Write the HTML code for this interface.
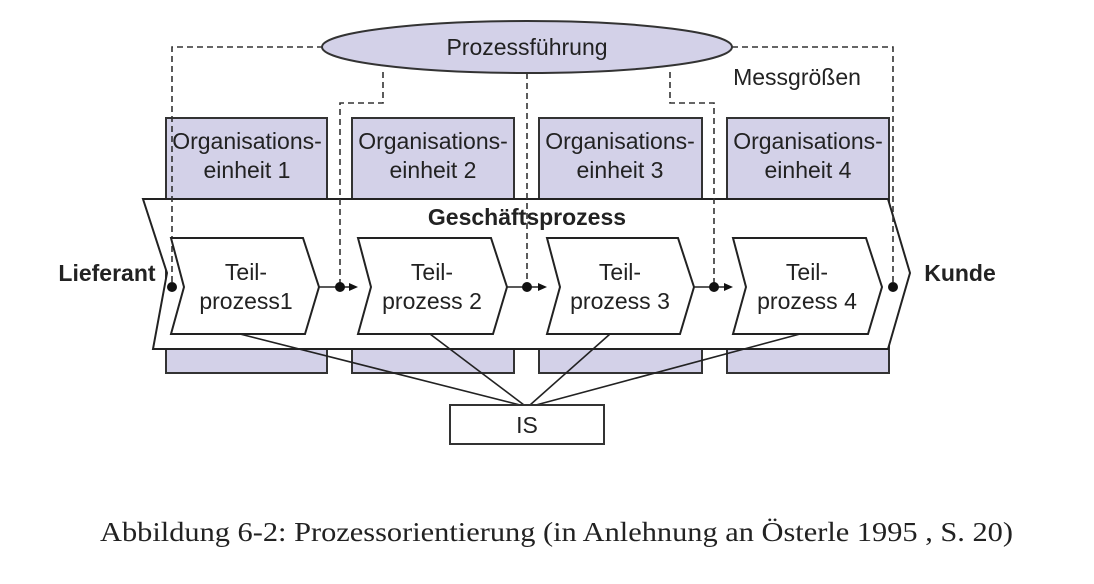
<!DOCTYPE html>
<html><head><meta charset="utf-8"><style>
html,body{margin:0;padding:0;background:#fff;}
svg{display:block;}
text{font-family:"Liberation Sans",sans-serif;fill:#222;}
</style></head><body>
<svg width="1094" height="584" viewBox="0 0 1094 584" xmlns="http://www.w3.org/2000/svg">
<g fill="#d3d1e8" stroke="#333" stroke-width="2">
<rect x="166" y="118" width="161" height="255"/>
<rect x="352" y="118" width="162" height="255"/>
<rect x="539" y="118" width="163" height="255"/>
<rect x="727" y="118" width="162" height="255"/>
</g>
<polygon points="143,199 888,199 910,273 888,349 153,349 167,273" fill="#fff" stroke="#222" stroke-width="2"/>
<ellipse cx="527" cy="47" rx="205" ry="26" fill="#d3d1e8" stroke="#333" stroke-width="2"/>
<g fill="none" stroke="#333" stroke-width="1.6" stroke-dasharray="6,4">
<polyline points="323,47 172,47 172,287"/>
<polyline points="383,72 383,103 340,103 340,287"/>
<polyline points="527,73 527,287"/>
<polyline points="670,72 670,103 714,103 714,287"/>
<polyline points="732,47 893,47 893,287"/>
</g>
<g fill="#fff" stroke="#222" stroke-width="2">
<polygon points="171,238 303,238 319,287 305,334 171,334 184,287"/>
<polygon points="358,238 491,238 507,287 493,334 358,334 371,287"/>
<polygon points="547,238 678,238 694,287 680,334 547,334 560,287"/>
<polygon points="733,238 866,238 882,287 868,334 733,334 746,287"/>
</g>
<g stroke="#222" stroke-width="1.6" fill="none">
<line x1="319" y1="287" x2="352" y2="287"/>
<line x1="507" y1="287" x2="541" y2="287"/>
<line x1="694" y1="287" x2="727" y2="287"/>
<line x1="240" y1="334" x2="520" y2="405"/>
<line x1="430" y1="334" x2="524" y2="405"/>
<line x1="610" y1="334" x2="530" y2="405"/>
<line x1="800" y1="334" x2="536" y2="405"/>
</g>
<g fill="#111">
<polygon points="358,287 349,283 349,291"/>
<polygon points="547,287 538,283 538,291"/>
<polygon points="733,287 724,283 724,291"/>
<circle cx="172" cy="287" r="5"/><circle cx="340" cy="287" r="5"/><circle cx="527" cy="287" r="5"/><circle cx="714" cy="287" r="5"/><circle cx="893" cy="287" r="5"/>
</g>
<rect x="450" y="405" width="154" height="39" fill="#fff" stroke="#333" stroke-width="2"/>
<g font-size="23" text-anchor="middle">
<text x="527" y="55">Prozessführung</text>
<text x="797" y="85">Messgrößen</text>
<text x="247" y="149">Organisations-</text><text x="247" y="178">einheit 1</text>
<text x="433" y="149">Organisations-</text><text x="433" y="178">einheit 2</text>
<text x="620" y="149">Organisations-</text><text x="620" y="178">einheit 3</text>
<text x="808" y="149">Organisations-</text><text x="808" y="178">einheit 4</text>
<text x="246" y="280">Teil-</text><text x="246" y="309">prozess1</text>
<text x="432" y="280">Teil-</text><text x="432" y="309">prozess 2</text>
<text x="620" y="280">Teil-</text><text x="620" y="309">prozess 3</text>
<text x="807" y="280">Teil-</text><text x="807" y="309">prozess 4</text>
<text x="527" y="433">IS</text>
<text x="527" y="225" font-weight="bold">Geschäftsprozess</text>
<text x="107" y="281" font-weight="bold">Lieferant</text>
<text x="960" y="281" font-weight="bold">Kunde</text>
</g>
<text x="100" y="541" font-size="27" textLength="913" lengthAdjust="spacingAndGlyphs" style="font-family:'Liberation Serif',serif">Abbildung 6-2: Prozessorientierung (in Anlehnung an Österle 1995 , S. 20)</text>
</svg>
</body></html>
